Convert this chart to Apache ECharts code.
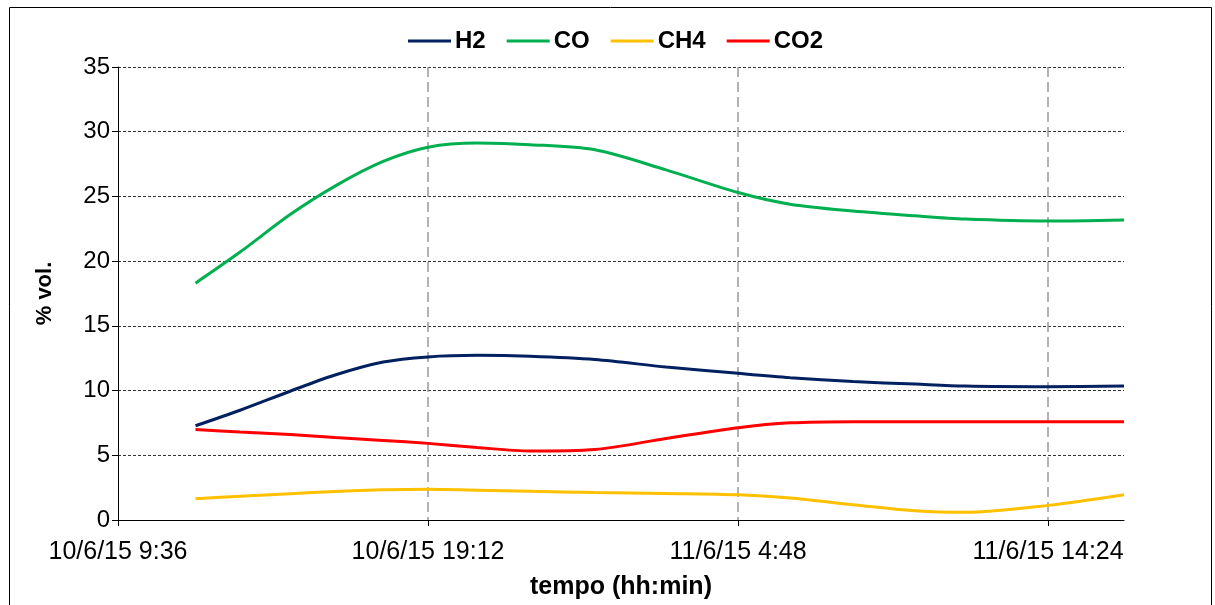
<!DOCTYPE html>
<html><head><meta charset="utf-8">
<script src="https://cdn.jsdelivr.net/npm/echarts@6/dist/echarts.min.js"></script>
<style>html,body{margin:0;padding:0;background:#fff}#c{width:1215px;height:605px}</style>
</head><body><div id="c"></div>
<script>
// time in hours since 10/6/15 0:00
const times = [12.0, 13.38, 14.93, 16.32, 17.81, 19.2, 20.72, 22.36, 24.37, 26.57, 28.8, 30.41, 32.36, 34.28, 35.83, 38.4, 40.75];
const H2  = [7.28, 8.48, 9.95, 11.2, 12.2, 12.6, 12.72, 12.65, 12.4, 11.82, 11.33, 11.0, 10.7, 10.5, 10.35, 10.3, 10.36];
const CO  = [18.3, 20.7, 23.6, 25.8, 27.7, 28.8, 29.12, 29.0, 28.6, 27.05, 25.3, 24.4, 23.87, 23.5, 23.25, 23.1, 23.18];
const CH4 = [1.64, 1.83, 2.03, 2.2, 2.33, 2.38, 2.3, 2.22, 2.12, 2.05, 1.95, 1.7, 1.18, 0.72, 0.6, 1.13, 1.95];
const CO2 = [7.0, 6.8, 6.6, 6.38, 6.15, 5.92, 5.6, 5.33, 5.45, 6.3, 7.13, 7.51, 7.6, 7.6, 7.6, 7.6, 7.6];
const seriesNames = ['H2', 'CO', 'CH4', 'CO2'];
const colors = ['#002060', '#00B050', '#FFC000', '#FF0000'];
const xMin = 9.6, xMax = 40.75, xStep = 9.6;

function fmt(v) {
  const totalMin = Math.round(v * 60);
  const day = 10 + Math.floor(totalMin / 1440);
  const m = totalMin % 1440;
  const h = Math.floor(m / 60), mm = m % 60;
  return day + '/6/15 ' + h + ':' + (mm < 10 ? '0' : '') + mm;
}
const values = [H2, CO, CH4, CO2];
const chart = echarts.init(document.getElementById('c'));
const font = 'Liberation Sans, Arial, sans-serif';
chart.setOption({
  animation: false,
  backgroundColor: '#fff',
  graphic: [{type: 'rect', shape: {x: 9.5, y: 7.5, width: 1202, height: 620}, style: {fill: 'none', stroke: '#000', lineWidth: 1}}],
  legend: {
    top: 24, left: 403, itemWidth: 43, itemHeight: 3, itemGap: 21,
    icon: 'rect',
    textStyle: {fontFamily: font, fontSize: 24, fontWeight: 'bold', color: '#000', padding: [0, 0, 0, -1]},
    data: seriesNames
  },
  grid: {left: 118, right: 91, top: 67, bottom: 79, containLabel: false},
  xAxis: {
    type: 'value', min: xMin, max: xMax, interval: xStep,
    name: 'tempo (hh:min)', nameLocation: 'middle', nameGap: 55,
    nameTextStyle: {fontFamily: font, fontSize: 25, fontWeight: 'bold', color: '#000'},
    axisLine: {lineStyle: {color: '#000', width: 1}},
    axisTick: {show: true, length: 6, lineStyle: {color: '#000'}},
    axisLabel: {fontFamily: font, fontSize: 25, color: '#000', margin: 20, formatter: fmt, showMaxLabel: false},
    splitLine: {show: true, showMinLine: false, showMaxLine: false, lineStyle: {color: '#999', type: [10, 5], width: 1.5}}
  },
  yAxis: {
    type: 'value', min: 0, max: 35, interval: 5,
    name: '% vol.', nameLocation: 'middle', nameGap: 62, nameRotate: 90,
    nameTextStyle: {fontFamily: font, fontSize: 22, fontWeight: 'bold', color: '#000'},
    axisLine: {show: true, lineStyle: {color: '#000', width: 1}},
    axisTick: {show: true, length: 6, lineStyle: {color: '#000'}},
    axisLabel: {fontFamily: font, fontSize: 24, color: '#000', margin: 8},
    splitLine: {show: true, showMinLine: false, lineStyle: {color: '#333', type: [3, 2], width: 1}}
  },
  series: seriesNames.map((n, i) => ({
    name: n, type: 'line', smooth: 0.3, symbol: 'none',
    lineStyle: {color: colors[i], width: 3},
    itemStyle: {color: colors[i]},
    data: times.map((t, j) => [t, values[i][j]])
  }))
});
</script></body></html>
